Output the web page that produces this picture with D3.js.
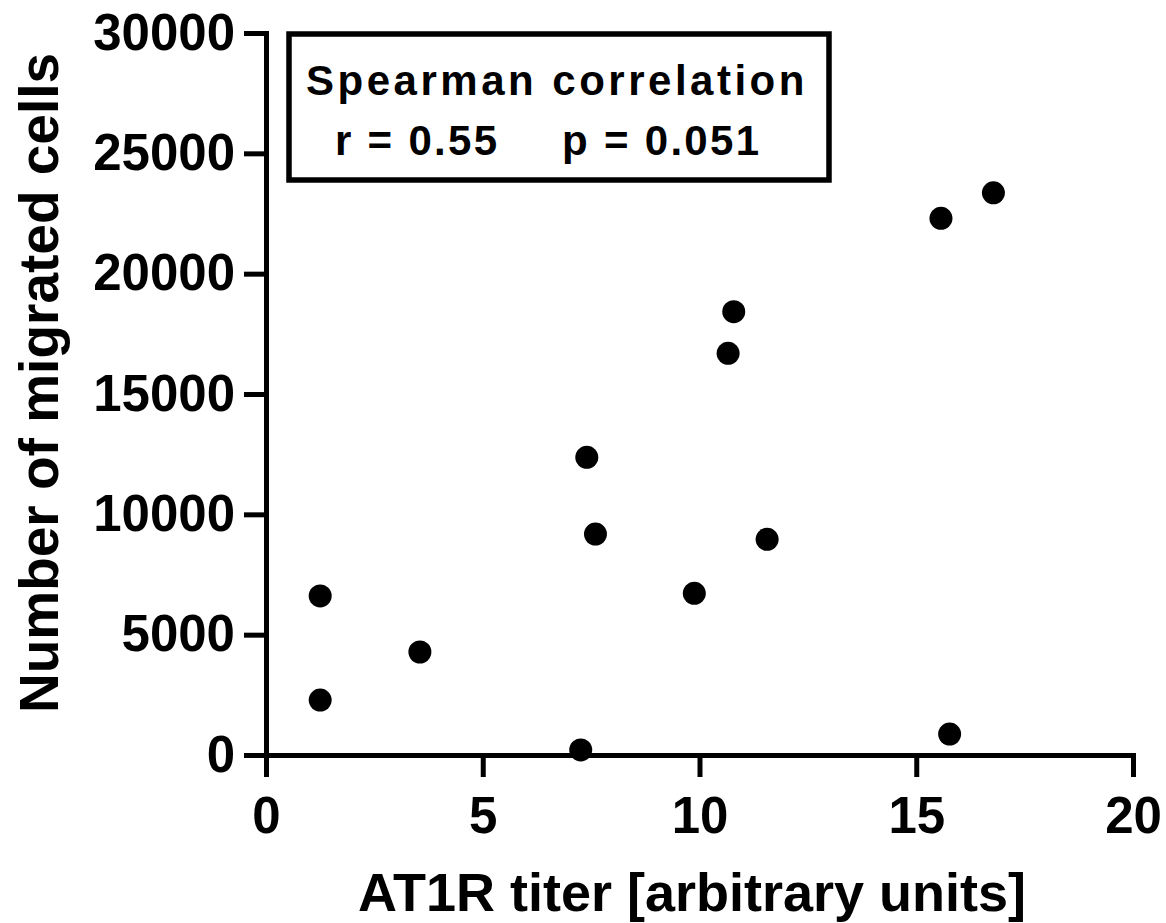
<!DOCTYPE html>
<html>
<head>
<meta charset="utf-8">
<script src="https://cdn.jsdelivr.net/npm/d3@7"></script>
<style>
  html, body { margin: 0; padding: 0; background: #fff; }
  svg { display: block; }
  text { font-family: "Liberation Sans", Arial, sans-serif; font-weight: bold; fill: #000; }
</style>
</head>
<body>
<svg id="chart" width="1166" height="923"></svg>
<script>
// ---- data ----
const titer = [1.25, 1.25, 3.55, 7.26, 7.40, 7.60, 9.88, 10.66, 10.79, 11.56, 15.57, 15.77, 16.78];
const migratedCells = [6610, 2285, 4280, 210, 12370, 9180, 6720, 16690, 18420, 8960, 22300, 870, 23360];
const xTicks = [0, 5, 10, 15, 20];
const yTicks = [0, 5000, 10000, 15000, 20000, 25000, 30000];
const xTitle = "AT1R titer [arbitrary units]";
const yTitle = "Number of migrated cells";
const statTitle = "Spearman correlation";
const statR = "r = 0.55";
const statP = "p = 0.051";

// ---- layout ----
const svg = d3.select("#chart");
const x = d3.scaleLinear().domain([0, 20]).range([266, 1133]);
const y = d3.scaleLinear().domain([0, 30000]).range([755, 33]);

const axisStyle = g => {
  g.selectAll("path.domain").attr("stroke", "#000").attr("stroke-width", 5).attr("stroke-linecap", "square");
  g.selectAll(".tick line").attr("stroke", "#000").attr("stroke-width", 5);
  g.selectAll(".tick text").attr("font-size", 51).attr("font-family", "Liberation Sans, Arial, sans-serif").attr("font-weight", "bold").attr("fill", "#000");
};

const gy = svg.append("g")
  .attr("transform", `translate(${x(0)},0)`)
  .call(d3.axisLeft(y).tickValues(yTicks).tickFormat(d3.format("d")).tickSize(22).tickSizeOuter(0).tickPadding(9));
axisStyle(gy);

const gx = svg.append("g")
  .attr("transform", `translate(0,${y(0)})`)
  .call(d3.axisBottom(x).tickValues(xTicks).tickFormat(d3.format("d")).tickSize(22).tickSizeOuter(0).tickPadding(20));
axisStyle(gx);

// points
svg.append("g").selectAll("circle")
  .data(titer.map((t, i) => [t, migratedCells[i]]))
  .join("circle")
  .attr("cx", d => x(d[0]))
  .attr("cy", d => y(d[1]))
  .attr("r", 11.5)
  .attr("fill", "#000");

// stats box
svg.append("rect")
  .attr("x", 289).attr("y", 34).attr("width", 540).attr("height", 146)
  .attr("fill", "none").attr("stroke", "#000").attr("stroke-width", 5.5);

svg.append("text").attr("x", 557).attr("y", 95).attr("text-anchor", "middle")
  .attr("font-size", 42).attr("letter-spacing", 3.5).text(statTitle);
svg.append("text").attr("x", 335).attr("y", 155).attr("text-anchor", "start")
  .attr("font-size", 42).attr("letter-spacing", 2.3).text(statR);
svg.append("text").attr("x", 562).attr("y", 155).attr("text-anchor", "start")
  .attr("font-size", 42).attr("letter-spacing", 2.3).text(statP);

// axis titles
svg.append("text").attr("x", 692).attr("y", 911).attr("text-anchor", "middle")
  .attr("font-size", 54).text(xTitle);
svg.append("text").attr("transform", "translate(58,383) rotate(-90)").attr("text-anchor", "middle")
  .attr("font-size", 55).text(yTitle);
</script>
</body>
</html>
